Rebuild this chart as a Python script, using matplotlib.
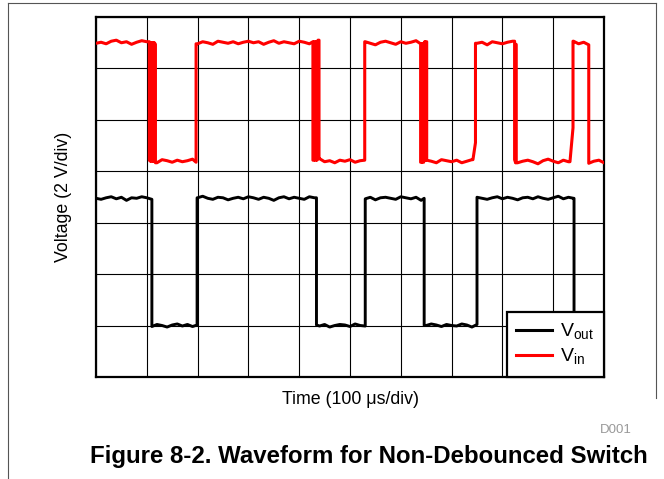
import numpy as np
import matplotlib
matplotlib.use("Agg")
import matplotlib.pyplot as plt
from matplotlib.lines import Line2D

plt.rcParams['font.family'] = ['Liberation Sans', 'DejaVu Sans']
plt.rcParams['mathtext.fontset'] = 'custom'
plt.rcParams['mathtext.rm'] = 'Liberation Sans'
plt.rcParams['path.simplify'] = False

# levels in divisions (2 V/div), time in divisions (100 us/div)
vin_high = 6.48
vin_low = 4.18
vout_high = 3.47
vout_low = 1.00

# switching instants (start high, every entry toggles the level)
vin_toggles = [1.05, 1.07, 1.09, 1.11, 1.13, 1.15, 1.17,
               1.97,
               4.27, 4.29, 4.31, 4.33, 4.35, 4.37, 4.39,
               5.29,
               6.39, 6.41, 6.43, 6.45, 6.47, 6.49, 6.51,
               7.47,
               8.24, 8.26, 8.27,
               9.39,
               9.70]
vout_toggles = [1.10, 1.99, 4.34, 5.30, 6.46, 7.50, 9.41]

# slow start of a rise: ramp start time, rise time, level reached
vin_ramp_start = [7.42, 9.33]
vin_ramp_rise = [7.47, 9.39]
vin_ramp_top = [4.55, 4.84]

# trace ripple every 0.1 div, hundredths of a division
vin_ripple = [0, 2, -1, 4, 6, 1, 3, -2, 2, 5, 3,
              1, -2, 4, 2, -1, 3, 0, 2, 5, -1,
              3, 1, -2, 4, 2, 0, 3, -1, 2, 4,
              1, 3, -2, 2, 5, 0, 3, 1, -1, 4,
              2, -1, 3, 6, 0, 2, -2, 3, 1, 4,
              -1, 2, 3, 0, -3, 2, 4, 1, -2, 3,
              0, 2, 5, -1, 3, 1, -2, 4, 2, 0,
              3, -2, 1, 4, 0, 2, -3, 3, 1, -1,
              2, 4, -2, 1, 3, 0, -4, 2, 5, 1,
              -2, 3, 0, 4, -1, 2, -3, 1, 3, -2]
vout_ripple = [0, -2, 1, 3, -1, 2, -4, 1, 0, 3, 1,
               -2, 2, 0, -3, 1, 3, -1, 2, -2, 1,
               4, 0, -2, 2, 1, -3, 0, 2, -1, 3,
               1, -2, 2, 0, -4, 1, 3, -1, 2, 0,
               -2, 3, 1, -1, 2, -3, 0, 2, 1, -2,
               3, 0, -1, 2, -3, 1, 2, 0, -2, 3,
               1, -1, 2, -4, 0, 3, 1, -2, 2, 0,
               -1, 3, 1, -3, 2, 0, -2, 1, 3, -1,
               2, 0, -3, 1, 2, -1, 3, 0, -2, 1,
               4, -1, 2, 0, -3, 1, 2, -2, 0, 3]


def build_trace(toggles, hi, lo, ripple, ramp_start=(), ramp_rise=(), ramp_top=()):
    step = 0.1
    ramps = {r: (s, v) for s, r, v in zip(ramp_start, ramp_rise, ramp_top)}
    bounds = [0.0] + list(toggles) + [10.0]
    ts, vs = [], []
    for i in range(len(bounds) - 1):
        a, b = bounds[i], bounds[i + 1]
        base = hi if i % 2 == 0 else lo
        k0 = int(np.floor(a / step)) + 1
        k1 = int(np.ceil(b / step))
        pts = [a] + [k * step for k in range(k0, k1)] + [b]
        if b in ramps and base == lo:
            s, top = ramps[b]
            pts = [p for p in pts if p < s] + [s]
        for p in pts:
            ts.append(p)
            vs.append(base + ripple[int(round(p / step))] * 0.01)
        if b in ramps and base == lo:
            ts.append(b)
            vs.append(ramps[b][1])
    return ts, vs


fig = plt.figure(figsize=(6.64, 4.79), dpi=100)
ax = fig.add_axes([96 / 664, 1 - 377 / 479, 508 / 664, 360.5 / 479])

t_in, v_in = build_trace(vin_toggles, vin_high, vin_low, vin_ripple,
                         vin_ramp_start, vin_ramp_rise, vin_ramp_top)
t_out, v_out = build_trace(vout_toggles, vout_high, vout_low, vout_ripple)

ax.plot(t_out, v_out, color='black', lw=2.1, label=r'V$_{\mathrm{out}}$', zorder=3)
ax.plot(t_in, v_in, color='#ff0000', lw=2.2, label=r'V$_{\mathrm{in}}$', zorder=3)

ax.set_xlim(0, 10)
ax.set_ylim(0, 7)
ax.set_xticks(range(11))
ax.set_yticks(range(8))
ax.tick_params(length=0, labelbottom=False, labelleft=False)
ax.grid(True, color='black', lw=0.8)
for sp in ax.spines.values():
    sp.set_linewidth(1.6)

ax.set_xlabel('Time (100 μs/div)', fontsize=12.8, labelpad=10)
ax.set_ylabel('Voltage (2 V/div)', fontsize=12.8, labelpad=17)

leg = ax.legend(loc='lower right', bbox_to_anchor=(1, 0), borderaxespad=0,
                fancybox=False, framealpha=1, edgecolor='black', fontsize=14,
                handlelength=1.85, handletextpad=0.4, borderpad=0.5,
                labelspacing=0.25)
leg.get_frame().set_linewidth(1.6)
for ln in leg.get_lines():
    ln.set_linewidth(2.2)

fig.text(632 / 664, 1 - 430 / 479, 'D001', ha='right', va='center',
         fontsize=9.5, color='#999999')
fig.text(368.5 / 664, 1 - 456 / 479, 'Figure 8-2. Waveform for Non-Debounced Switch',
         ha='center', va='center', fontsize=17.3, fontweight='bold')

# outer page frame
fig.add_artist(Line2D([8 / 664, 656 / 664], [1 - 3 / 479, 1 - 3 / 479],
                      transform=fig.transFigure, color='#555555', lw=0.8))
fig.add_artist(Line2D([8 / 664, 8 / 664], [1 - 3 / 479, 0],
                      transform=fig.transFigure, color='#555555', lw=0.8))
fig.add_artist(Line2D([656 / 664, 656 / 664], [1 - 3 / 479, 1 - 398 / 479],
                      transform=fig.transFigure, color='#555555', lw=0.8))

fig.savefig('out.png', dpi=100)
